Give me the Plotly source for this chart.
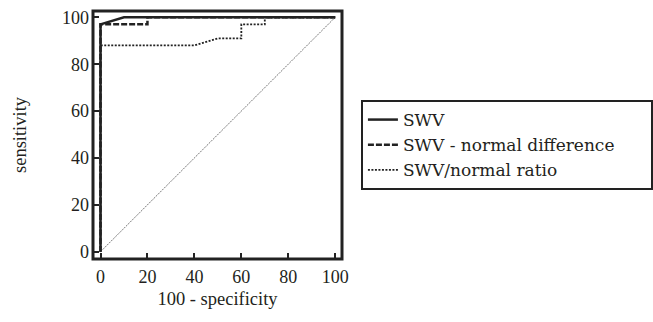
import plotly.graph_objects as go

# ROC curve data (100 - specificity vs sensitivity)
swv_x = [0, 0, 10, 100]
swv_y = [0, 97, 100, 100]

diff_x = [0, 0, 20, 20, 100]
diff_y = [0, 97, 97, 100, 100]

ratio_x = [0, 0, 40, 45, 50, 60, 60, 70, 70, 100]
ratio_y = [0, 88, 88, 89.5, 91, 91, 97, 97, 100, 100]

ref_x = [0, 100]
ref_y = [0, 100]

tick_vals = [0, 20, 40, 60, 80, 100]
tick_text = ["0", "20", "40", "60", "80", "100"]

FONT = "Liberation Serif, Times New Roman, serif"
LFONT = "DejaVu Serif, serif"
TXT = "#231f20"

fig = go.Figure()
fig.add_trace(go.Scatter(x=ref_x, y=ref_y, mode="lines", showlegend=False,
                         line=dict(color="#777777", width=1, dash="2px,1px"), hoverinfo="skip"))
fig.add_trace(go.Scatter(x=ratio_x, y=ratio_y, mode="lines", name="SWV/normal ratio",
                         line=dict(color="#222222", width=1.8, dash="2px,1.5px")))
fig.add_trace(go.Scatter(x=diff_x, y=diff_y, mode="lines", name="SWV - normal difference",
                         line=dict(color="#222222", width=2.5, dash="6px,2px")))
fig.add_trace(go.Scatter(x=swv_x, y=swv_y, mode="lines", name="SWV",
                         line=dict(color="#222222", width=2.5)))

axis_common = dict(
    showgrid=False, zeroline=False, showline=False,
    ticks="inside", ticklen=6, tickwidth=2, tickcolor="#222222",
    tickvals=tick_vals, ticktext=tick_text,
    tickfont=dict(family=FONT, size=18, color=TXT),
)

fig.update_layout(
    width=653, height=322,
    margin=dict(l=93, r=311, t=11, b=63, autoexpand=False),
    paper_bgcolor="white", plot_bgcolor="white",
    font=dict(family=FONT, color=TXT),
    xaxis=dict(range=[-3.2, 102.9], ticklabelstandoff=5,
               title=dict(text="100 - specificity", standoff=6,
               font=dict(family=FONT, size=18.5, color=TXT)), **axis_common),
    yaxis=dict(range=[-3.1, 102.7], ticklabelstandoff=3,
               title=dict(text="sensitivity", standoff=30,
               font=dict(family=FONT, size=18.5, color=TXT)), **axis_common),
    legend=dict(x=1.076, y=0.641, xanchor="left", yanchor="top",
                orientation="h", entrywidth=243, entrywidthmode="pixels",
                traceorder="reversed",
                bordercolor="#222222", borderwidth=2, bgcolor="white",
                font=dict(family=LFONT, size=17, color=TXT)),
    shapes=[dict(type="rect", xref="paper", yref="paper", x0=0, y0=0, x1=1, y1=1,
                 line=dict(color="#222222", width=3), layer="above")],
)

fig.write_html("out.html")
